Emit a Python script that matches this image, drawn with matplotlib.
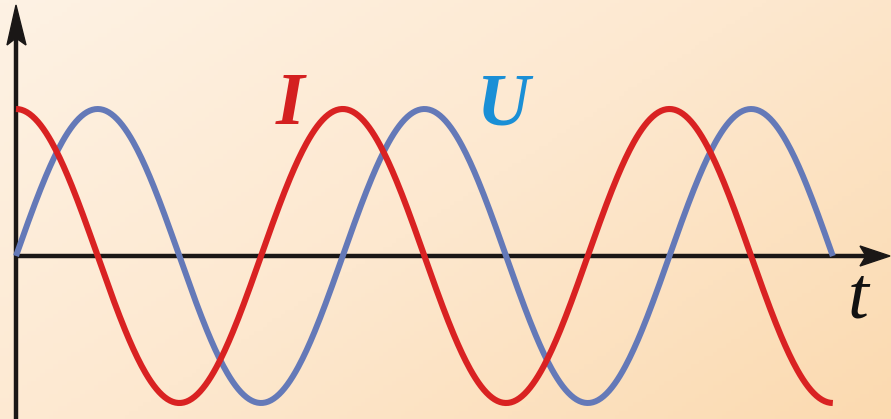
import numpy as np
import matplotlib.pyplot as plt
from matplotlib.colors import LinearSegmentedColormap
from matplotlib.patches import Polygon

# 曲线参数：振幅、周期数、相位
amp_I = 1.0
amp_U = 1.0
n_periods = 2.5
phase_I = np.pi / 2   # I 超前 U 四分之一周期
phase_U = 0.0

t = np.linspace(0, n_periods * 2 * np.pi, 600)
I = amp_I * np.sin(t + phase_I)
U = amp_U * np.sin(t + phase_U)

labels = ['I', 'U', 't']

fig = plt.figure(figsize=(8.91, 4.19), dpi=100)
ax = fig.add_axes([0, 0, 1, 1])

# 坐标范围：原点在 (16px, 256px)，1 rad ≈ 52px，振幅 ≈ 147px
sx, sy = 52.0, 147.0
x0, y0 = 16, 256
xlim = (-x0 / sx, (891 - x0) / sx)
ylim = (-(419 - y0) / sy, y0 / sy)
ax.set_xlim(xlim)
ax.set_ylim(ylim)
ax.axis('off')


def px(x, y):
    # 像素位置 -> 数据坐标
    return ((x - x0) / sx, (y0 - y) / sy)


# 背景渐变
cmap = LinearSegmentedColormap.from_list('bg', ['#fdf2e4', '#fde8cf', '#fbdab0'])
gx, gy = np.meshgrid(np.linspace(0, 1, 200), np.linspace(0, 1, 100))
grad = 0.58 * gx + 0.42 * gy
ax.imshow(grad, cmap=cmap, extent=(xlim[0], xlim[1], ylim[0], ylim[1]),
          aspect='auto', origin='upper', zorder=0, vmin=0, vmax=1)

# 坐标轴与箭头
axc = '#1a1716'
ax.plot(*zip(px(16, 425), px(16, 38)), color=axc, lw=3.2, zorder=2,
        solid_capstyle='butt')
ax.plot(*zip(px(16, 256), px(868, 256)), color=axc, lw=3.2, zorder=2,
        solid_capstyle='butt')
ax.add_patch(Polygon([px(16, 5), px(26, 45), px(16, 38), px(7, 45)],
                     closed=True, color=axc, zorder=2))
ax.add_patch(Polygon([px(890, 256), px(860, 266), px(866, 256), px(860, 246)],
                     closed=True, color=axc, zorder=2))

# 曲线
ax.plot(t, U, color='#6479b8', lw=4.3, solid_capstyle='butt', zorder=3)
ax.plot(t, I, color='#d92222', lw=4.4, solid_capstyle='butt', zorder=4)

font = dict(family='Liberation Serif', style='italic', weight='bold', fontsize=53)
ax.text(*px(290, 106), labels[0], color='#d42020',
        ha='center', va='center', **font)
ax.text(*px(504, 106), labels[1], color='#1a8fd6',
        ha='center', va='center', **font)
ax.text(*px(858, 300), labels[2], color='#111111',
        ha='center', va='center', family='Liberation Serif', style='italic',
        fontsize=54)

plt.savefig('out.png', dpi=100)
plt.close()
